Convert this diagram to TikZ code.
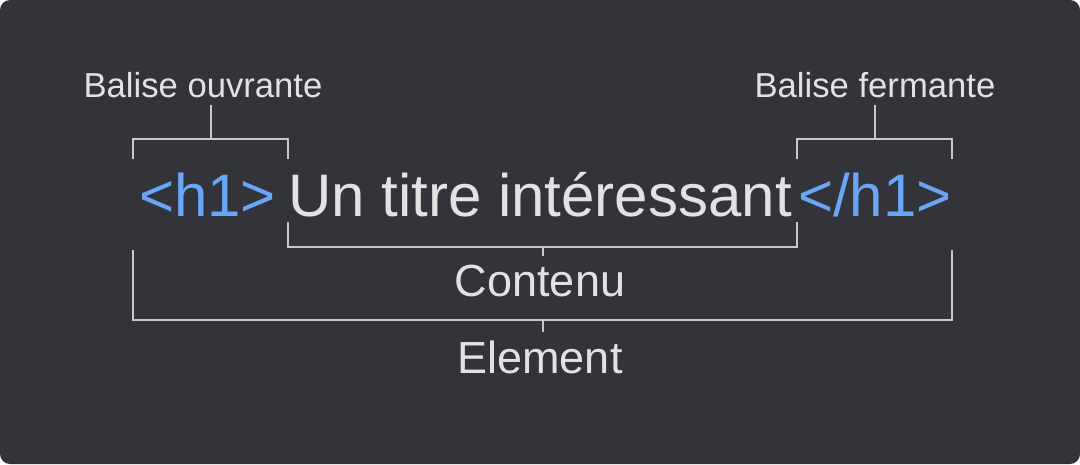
\documentclass[tikz,border=0pt]{standalone}
\usepackage{fontspec}
\setmainfont{Liberation Sans}
\usepackage{xcolor}
\usepackage{tikz}
\usetikzlibrary{positioning, calc}

\definecolor{bgdark}{HTML}{333439}
\definecolor{txtlight}{HTML}{E2E2E2}
\definecolor{tagblue}{HTML}{6AA6F8}
\definecolor{linegray}{HTML}{C8C8C8}

\begin{document}
\begin{tikzpicture}[x=0.75pt, y=-0.75pt]
    % Styles
    \tikzstyle{caption} = [text=txtlight, inner sep=0pt, anchor=base, font=\fontsize{26}{30}\selectfont]
    \tikzstyle{part} = [text=txtlight, inner sep=0pt, anchor=base, font=\fontsize{33.75}{40}\selectfont]
    \tikzstyle{content} = [text=txtlight, inner sep=0pt, anchor=base, font=\fontsize{45}{54}\selectfont]
    \tikzstyle{tag} = [text=tagblue, inner sep=0pt, anchor=base, font=\fontsize{45}{54}\selectfont]
    \tikzstyle{bracket} = [draw=linegray, line width=1.6pt]

    % Background
    \fill [bgdark, rounded corners=7.5pt] (0,0) rectangle (1080,464);

    % Nodes
    \node [tag] (open) at (207.5,216) {<h1>};
    \node [content] (title) at (540,216) {Un titre intéressant};
    \node [tag] (close) at (875,216) {</h1>};

    \node [caption] (ouvrante) at (203,97) {Balise ouvrante};
    \node [caption] (fermante) at (875,97) {Balise fermante};
    \node [part] (contenu) at (540,296) {Contenu};
    \node [part] (element) at (540,373) {Element};

    % Bracket ends
    \coordinate (ouvL) at (133,159);
    \coordinate (ouvR) at (288,159);
    \coordinate (ouvS) at (211,139);
    \coordinate (ferL) at (797,159);
    \coordinate (ferR) at (952,159);
    \coordinate (ferS) at (875,139);
    \coordinate (conL) at (288,222);
    \coordinate (conR) at (797,222);
    \coordinate (conS) at (543,247);
    \coordinate (eleL) at (133,250);
    \coordinate (eleR) at (952,250);
    \coordinate (eleS) at (543,320);

    % Brackets
    \draw [bracket] (ouvL) -- ++(0,-20) -| (ouvR);
    \draw [bracket] (ouvS) -- ++(0,-34);
    \draw [bracket] (ferL) -- ++(0,-20) -| (ferR);
    \draw [bracket] (ferS) -- ++(0,-34);
    \draw [bracket] (conL) -- ++(0,25) -| (conR);
    \draw [bracket] (conS) -- ++(0,9);
    \draw [bracket] (eleL) -- ++(0,70) -| (eleR);
    \draw [bracket] (eleS) -- ++(0,12);
\end{tikzpicture}
\end{document}
